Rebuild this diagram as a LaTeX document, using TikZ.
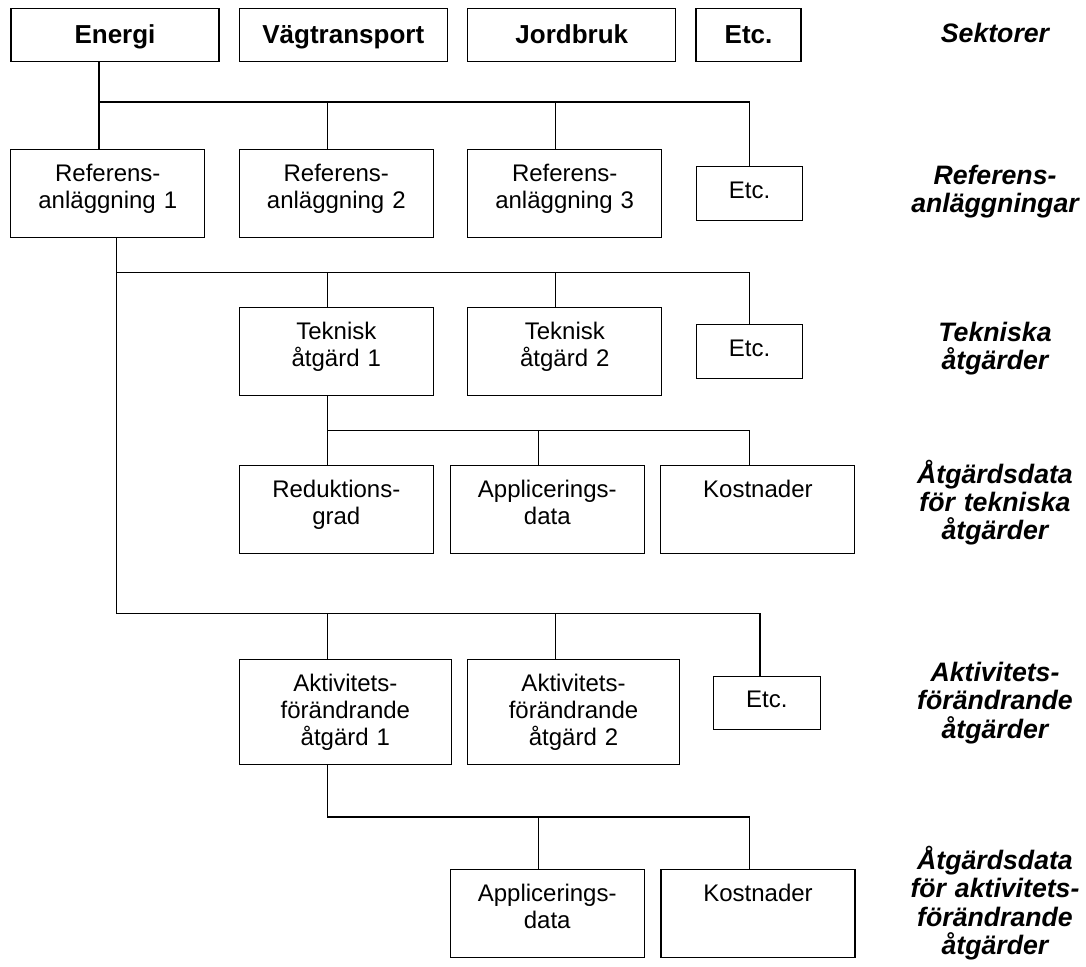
\documentclass[tikz,border=0pt]{standalone}
\usepackage{fontspec}
\setmainfont{Liberation Sans}
\begin{document}
\begin{tikzpicture}[x=0.75pt,y=-0.75pt,line width=0.8pt,
  ruta/.style={draw,inner sep=0pt,align=center,text width=145.5pt,text height=24pt,text depth=42pt,font=\fontsize{18}{20.25}\selectfont},
  sektor/.style={ruta,text width=156pt,text height=26.25pt,text depth=13.8pt,font=\fontsize{19.5}{22}\selectfont\bfseries},
  stor/.style={ruta,text width=158.6pt,text height=24.5pt,text depth=54.8pt},
  etcruta/.style={ruta,text width=80pt,text height=23.7pt,text depth=16.3pt},
  rubrik/.style={inner sep=0pt,text width=170pt,align=center,anchor=base,font=\fontsize{20}{21.3}\selectfont\bfseries\itshape}]
\useasboundingbox (0,0) rectangle (1086,967);
% sektorer
\node[sektor] (energi) at (115,35) {Energi};
\node[sektor] (vag) at (343.3,35) {Vägtransport};
\node[sektor] (jord) at (571.8,35) {Jordbruk};
\node[sektor,text width=78.75pt] (setc) at (748.5,35) {Etc.};
% referensanlaggningar
\node[ruta] (ref1) at (107.8,193.5) {Referens-\\anläggning 1};
\node[ruta] (ref2) at (336.3,193.5) {Referens-\\anläggning 2};
\node[ruta] (ref3) at (564.7,193.5) {Referens-\\anläggning 3};
\node[etcruta] (retc) at (749.5,193.4) {Etc.};
% tekniska atgarder
\node[ruta] (tek1) at (336.3,351.5) {Teknisk\\åtgärd 1};
\node[ruta] (tek2) at (564.8,351.5) {Teknisk\\åtgärd 2};
\node[etcruta] (tetc) at (749.5,351.5) {Etc.};
\node[ruta] (red) at (336.3,509.9) {Reduktions-\\grad};
\node[ruta] (app) at (547.3,509.9) {Applicerings-\\data};
\node[ruta] (kost) at (757.9,509.9) {Kostnader};
% aktivitetsforandrande atgarder
\node[stor] (akt1) at (345.4,711.9) {Aktivitets-\\förändrande\\åtgärd 1};
\node[stor] (akt2) at (573.5,711.9) {Aktivitets-\\förändrande\\åtgärd 2};
\node[etcruta] (aetc) at (766.9,703) {Etc.};
\node[ruta] (app2) at (547.2,913.7) {Applicerings-\\data};
\node[ruta] (kost2) at (758,913.7) {Kostnader};
% rubriker till hoger
\node[rubrik] (lsek) at (995,42.7) {Sektorer};
\node[rubrik] (lref) at (995,184.5) {Referens-\\anläggningar};
\node[rubrik] (ltek) at (995,341.5) {Tekniska\\åtgärder};
\node[rubrik] (ldata) at (995,483) {Åtgärdsdata\\för tekniska\\åtgärder};
\node[rubrik] (lakt) at (995,681.5) {Aktivitets-\\förändrande\\åtgärder};
\node[rubrik] (ldata2) at (995,869.5) {Åtgärdsdata\\för aktivitets-\\förändrande\\åtgärder};
% kolumner och skenor for linjerna
\coordinate (xa) at (99,0);
\coordinate (xb) at (116.7,0);
\coordinate (xc) at (327.7,0);
\coordinate (xd) at (538.4,0);
\coordinate (xe) at (555.7,0);
\coordinate (xf) at (749.3,0);
\coordinate (xg) at (760,0);
\coordinate (ya) at (0,102);
\coordinate (yb) at (0,272.3);
\coordinate (yc) at (0,430.5);
\coordinate (yd) at (0,613.7);
\coordinate (ye) at (0,817);
\draw (energi.south -| xa) -- (ref1.north -| xa);
\draw (ya -| xa) -| (retc.north);
\draw (ya -| xc) -- (ref2.north -| xc);
\draw (ya -| xe) -- (ref3.north -| xe);
\draw (ref1.south -| xb) -- (yd -| xb) -- (yd -| xg) -- (aetc.north -| xg);
\draw (yb -| xb) -| (tetc.north);
\draw (yb -| xc) -- (tek1.north -| xc);
\draw (yb -| xe) -- (tek2.north -| xe);
\draw (tek1.south -| xc) |- (yc -| xf) -- (kost.north -| xf);
\draw (yc -| xc) -- (red.north -| xc);
\draw (yc -| xd) -- (app.north -| xd);
\draw (yd -| xc) -- (akt1.north -| xc);
\draw (yd -| xe) -- (akt2.north -| xe);
\draw (akt1.south -| xc) |- (ye -| xf) -- (kost2.north -| xf);
\draw (ye -| xd) -- (app2.north -| xd);
\end{tikzpicture}
\end{document}
